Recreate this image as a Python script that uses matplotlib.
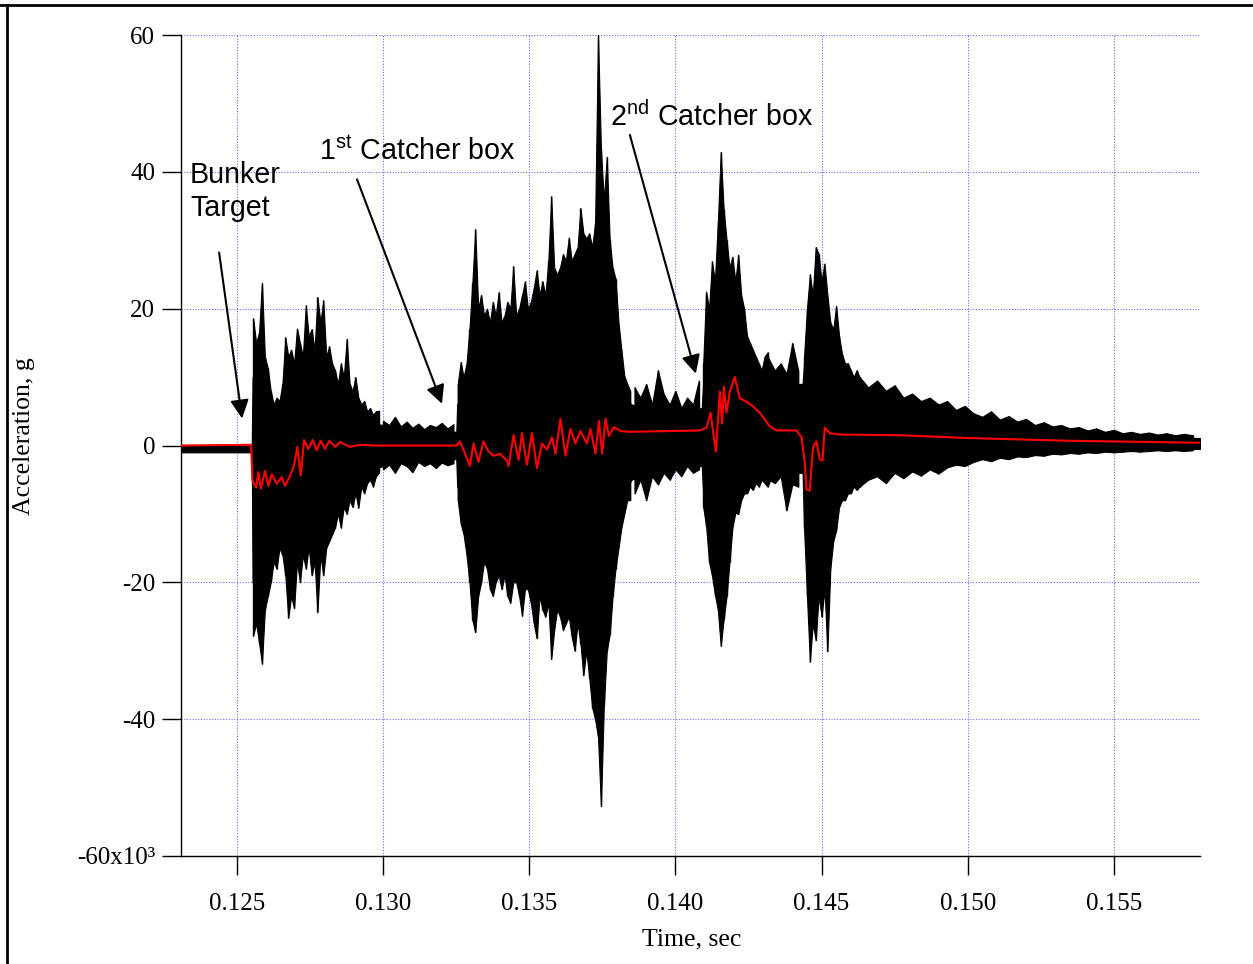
import matplotlib
matplotlib.use("Agg")
import matplotlib.pyplot as plt

plt.rcParams['mathtext.fontset'] = 'custom'
plt.rcParams['mathtext.rm'] = 'Liberation Sans'

# solid core of the raw accelerometer trace (time in s, acceleration in 10^3 g)
core_t = [0.12308, 0.12550, 0.12553, 0.12590, 0.12620, 0.12660, 0.12680, 0.12780,
          0.12820, 0.12870, 0.12920, 0.13000, 0.13100, 0.13250, 0.13253, 0.13290,
          0.13330, 0.13450, 0.13550, 0.13650, 0.13720, 0.13760, 0.13800, 0.13850,
          0.13950, 0.14050, 0.14090, 0.14096, 0.14140, 0.14180, 0.14220, 0.14260,
          0.14300, 0.14400, 0.14435, 0.14440, 0.14480, 0.14520, 0.14550, 0.14600,
          0.14700, 0.14800, 0.14900, 0.15000, 0.15100, 0.15200, 0.15300, 0.15400,
          0.15500, 0.15600, 0.15795]
core_hi = [0.0, 0.0, 10.0, 8.0, 4.0, 5.0, 9.0, 10.0,
           7.0, 5.0, 3.5, 3.0, 2.3, 2.0, 6.0, 8.0,
           13.0, 13.0, 15.0, 18.0, 22.0, 15.0, 8.0, 6.0,
           5.0, 5.0, 5.5, 10.0, 18.0, 18.0, 12.0, 9.0,
           8.5, 9.0, 9.0, 12.0, 18.0, 14.0, 9.0, 8.0,
           6.5, 5.5, 4.5, 3.8, 3.0, 2.5, 2.1, 1.7,
           1.4, 1.2, 1.1]
core_lo = [-1.0, -1.0, -20.0, -18.0, -13.0, -12.0, -13.0, -13.0,
           -9.0, -6.0, -4.0, -3.0, -2.2, -2.0, -6.0, -10.0,
           -13.0, -14.0, -16.0, -20.0, -24.0, -15.0, -8.0, -5.0,
           -3.5, -3.0, -3.0, -8.0, -15.0, -10.0, -6.0, -4.5,
           -4.0, -4.0, -4.0, -12.0, -20.0, -15.0, -7.0, -5.0,
           -3.5, -3.0, -2.5, -1.8, -1.4, -1.1, -0.9, -0.8,
           -0.7, -0.6, -0.5]

# max/min of the raw trace around the bunker target
burst_a_t = [0.12555, 0.12565, 0.12575, 0.12585, 0.12595, 0.12605, 0.12615, 0.12625,
             0.12635, 0.12645, 0.12655, 0.12665, 0.12675, 0.12685, 0.12695, 0.12705,
             0.12715, 0.12725, 0.12735, 0.12745, 0.12755, 0.12765, 0.12775, 0.12785,
             0.12795, 0.12805, 0.12815, 0.12825, 0.12835, 0.12845, 0.12855, 0.12865,
             0.12875, 0.12885, 0.12895, 0.12905, 0.12915, 0.12925, 0.12935, 0.12945,
             0.12955, 0.12965, 0.12975, 0.12985]
burst_a_hi = [18.6, 15.0, 16.5, 23.8, 13.0, 11.3, 8.0, 6.0,
              7.0, 6.5, 9.0, 15.8, 13.0, 14.0, 12.0, 17.1,
              15.0, 13.0, 20.5, 16.0, 17.0, 14.0, 21.7, 18.0,
              21.2, 13.0, 14.5, 12.0, 11.0, 9.0, 12.0, 10.0,
              15.6, 9.0, 8.0, 10.0, 7.0, 6.0, 6.5, 5.0,
              5.5, 4.5, 5.0, 5.1]
burst_a_lo = [-27.8, -26.0, -28.8, -31.9, -24.0, -22.0, -20.0, -17.0,
              -18.0, -15.0, -16.0, -19.0, -25.2, -22.0, -23.8, -17.0,
              -20.0, -16.0, -18.0, -14.9, -19.0, -17.0, -24.4, -16.0,
              -19.0, -15.0, -14.0, -13.0, -12.0, -10.0, -12.0, -9.0,
              -10.0, -8.0, -9.0, -7.0, -9.1, -6.0, -7.0, -5.5,
              -5.0, -6.0, -4.5, -4.0]

# first catcher box
burst_b_t = [0.13255, 0.13265, 0.13275, 0.13285, 0.13295, 0.13305, 0.13315, 0.13325,
             0.13335, 0.13345, 0.13355, 0.13365, 0.13375, 0.13385, 0.13395, 0.13405,
             0.13415, 0.13425, 0.13435, 0.13445, 0.13455, 0.13465, 0.13475, 0.13485,
             0.13495, 0.13505, 0.13515, 0.13525, 0.13535, 0.13545, 0.13555, 0.13565,
             0.13575, 0.13585, 0.13595, 0.13605, 0.13615, 0.13625, 0.13635, 0.13645,
             0.13655, 0.13665, 0.13675, 0.13685, 0.13695, 0.13705, 0.13715, 0.13725,
             0.13735, 0.13745, 0.13755, 0.13765, 0.13775, 0.13785, 0.13795, 0.13805,
             0.13815, 0.13825, 0.13835, 0.13845]
burst_b_hi = [9.0, 12.2, 10.0, 12.0, 17.0, 23.8, 31.6, 20.0,
              22.0, 19.0, 20.0, 18.0, 21.0, 19.0, 22.4, 18.0,
              19.0, 21.0, 20.0, 26.2, 19.0, 20.0, 22.0, 24.0,
              20.0, 21.0, 23.0, 25.6, 22.0, 24.0, 22.0, 27.0,
              36.4, 26.0, 25.0, 26.0, 28.0, 27.0, 30.4, 27.0,
              28.0, 29.0, 34.7, 31.0, 30.3, 31.0, 29.0, 32.5,
              60.0, 43.4, 35.8, 42.2, 30.0, 25.9, 24.4, 18.0,
              14.0, 10.2, 9.0, 8.0]
burst_b_lo = [-8.0, -11.4, -13.0, -16.0, -20.0, -25.5, -27.3, -22.0,
              -20.0, -17.0, -18.0, -21.0, -22.0, -20.0, -19.0, -21.0,
              -19.0, -22.0, -23.0, -20.0, -20.0, -22.0, -24.9, -21.0,
              -21.0, -23.0, -26.0, -28.2, -22.0, -24.0, -25.0, -23.0,
              -31.2, -27.0, -24.0, -25.0, -27.0, -26.0, -25.0, -28.0,
              -30.0, -26.0, -29.0, -33.6, -30.0, -34.0, -38.3, -40.0,
              -42.6, -52.7, -38.0, -30.0, -27.6, -22.0, -18.0, -15.0,
              -12.0, -10.0, -8.0, -8.0]

# second catcher box, first impact
burst_c_t = [0.14095, 0.14105, 0.14115, 0.14125, 0.14135, 0.14145, 0.14155, 0.14165,
             0.14175, 0.14185, 0.14195, 0.14205, 0.14215, 0.14225, 0.14235, 0.14245,
             0.14255, 0.14265, 0.14275, 0.14285, 0.14295, 0.14305, 0.14315, 0.14325]
burst_c_hi = [12.0, 22.5, 20.0, 26.9, 24.0, 32.6, 42.9, 34.5,
              30.0, 26.0, 27.6, 24.0, 27.9, 22.0, 20.0, 16.0,
              15.0, 14.0, 13.0, 12.0, 11.0, 13.0, 13.6, 11.0]
burst_c_lo = [-9.0, -11.8, -17.0, -19.0, -21.8, -24.0, -29.3, -25.4,
              -22.0, -17.0, -12.0, -9.8, -10.0, -8.0, -7.0, -7.0,
              -6.0, -6.5, -5.5, -6.0, -5.0, -5.5, -6.0, -5.0]

# second catcher box, second impact
burst_d_t = [0.14440, 0.14450, 0.14460, 0.14470, 0.14480, 0.14490, 0.14500, 0.14510,
             0.14520, 0.14530, 0.14540, 0.14550, 0.14560, 0.14570, 0.14580, 0.14590,
             0.14600, 0.14610, 0.14620, 0.14630]
burst_d_hi = [13.0, 20.0, 25.0, 22.0, 29.0, 28.0, 24.0, 26.6,
              22.0, 18.0, 17.0, 20.4, 16.0, 13.4, 12.0, 12.0,
              11.0, 10.0, 11.0, 10.0]
burst_d_lo = [-12.0, -22.0, -31.6, -26.0, -28.5, -22.0, -25.0, -21.0,
              -30.1, -18.0, -14.0, -12.4, -9.0, -8.0, -8.0, -7.0,
              -7.0, -6.0, -6.5, -6.0]

# quieter stretches between and after the impacts
quiet_1_t = [0.13000, 0.13020, 0.13040, 0.13060, 0.13080, 0.13100, 0.13120, 0.13140,
             0.13160, 0.13180, 0.13200, 0.13220, 0.13240]
quiet_1_hi = [3.6, 3.0, 4.2, 2.8, 3.5, 2.6, 3.2, 2.4, 3.0, 2.7, 3.3, 2.5, 3.1]
quiet_1_lo = [-3.5, -2.8, -4.0, -2.6, -3.0, -3.9, -2.4, -3.0, -2.6, -3.3, -2.5, -2.9, -2.6]

quiet_2_t = [0.13860, 0.13880, 0.13900, 0.13920, 0.13940, 0.13960, 0.13980, 0.14000,
             0.14020, 0.14040, 0.14060, 0.14080]
quiet_2_hi = [8.5, 7.0, 9.0, 6.0, 11.0, 7.5, 6.0, 8.0, 5.5, 7.0, 6.0, 9.5]
quiet_2_lo = [-7.0, -5.0, -8.0, -4.5, -5.7, -4.0, -5.0, -3.5, -4.5, -3.0, -4.0, -3.5]

quiet_3_t = [0.14320, 0.14340, 0.14360, 0.14380, 0.14400, 0.14420]
quiet_3_hi = [12.6, 11.0, 12.0, 10.5, 15.0, 11.0]
quiet_3_lo = [-5.0, -5.5, -4.5, -9.5, -5.7, -6.0]

quiet_4_t = [0.14630, 0.14660, 0.14690, 0.14720, 0.14750, 0.14780, 0.14810, 0.14840,
             0.14870, 0.14900, 0.14930, 0.14960, 0.14990, 0.15020, 0.15050, 0.15080,
             0.15110, 0.15140, 0.15170, 0.15200, 0.15230, 0.15260, 0.15290, 0.15320,
             0.15350, 0.15380, 0.15410, 0.15440, 0.15470, 0.15500, 0.15530, 0.15560,
             0.15590, 0.15620, 0.15650, 0.15680, 0.15710, 0.15740, 0.15770]
quiet_4_hi = [10.0, 8.5, 9.5, 8.0, 8.8, 7.0, 7.6, 6.5,
              7.0, 6.0, 6.5, 5.2, 5.8, 4.7, 4.2, 5.0,
              3.8, 4.3, 3.5, 3.9, 3.0, 3.4, 2.8, 3.0,
              2.5, 2.7, 2.2, 2.5, 2.0, 2.3, 1.8, 2.0,
              1.7, 1.9, 1.6, 1.8, 1.5, 1.7, 1.5]
quiet_4_lo = [-6.0, -5.0, -4.5, -5.5, -4.0, -4.8, -3.8, -4.4,
              -3.5, -4.1, -3.2, -2.8, -3.0, -2.4, -2.0, -2.3,
              -1.8, -2.0, -1.6, -1.7, -1.4, -1.5, -1.2, -1.3,
              -1.1, -1.2, -1.0, -1.1, -0.9, -1.0, -0.9, -0.8,
              -0.9, -0.8, -0.7, -0.8, -0.7, -0.8, -0.7]

# low-pass filtered trace (red)
red_t = [0.123085, 0.125479, 0.125523, 0.125650, 0.125728, 0.125811, 0.125958, 0.126070,
         0.126187, 0.126358, 0.126529, 0.126642, 0.126813, 0.126949, 0.127062, 0.127179,
         0.127291, 0.127438, 0.127589, 0.127726, 0.127862, 0.128010, 0.128157, 0.128352,
         0.128523, 0.128865, 0.129207, 0.129778, 0.132514, 0.132627, 0.132969, 0.133088,
         0.133259, 0.133430, 0.133605, 0.133776, 0.133995, 0.134234, 0.134289, 0.134460,
         0.134634, 0.134747, 0.134918, 0.135089, 0.135260, 0.135431, 0.135602, 0.135773,
         0.135893, 0.136064, 0.136235, 0.136406, 0.136577, 0.136748, 0.136970, 0.137093,
         0.137264, 0.137380, 0.137493, 0.137606, 0.137722, 0.137893, 0.138122, 0.138464,
         0.140834, 0.141064, 0.141200, 0.141382, 0.141518, 0.141597, 0.141655, 0.141748,
         0.141860, 0.142031, 0.142202, 0.142432, 0.142603, 0.142886, 0.143228, 0.143458,
         0.144142, 0.144313, 0.144425, 0.144483, 0.144596, 0.144709, 0.144826, 0.144938,
         0.145031, 0.145109, 0.145280, 0.145622, 0.147674, 0.149966, 0.153386, 0.157934]
red_v = [0.0, 0.1, -5.1, -6.1, -3.9, -6.3, -3.7, -5.9,
         -4.2, -5.6, -4.6, -5.9, -4.4, -2.9, -0.2, -4.4,
         0.8, -0.5, 0.8, -0.7, 0.7, -0.5, 0.7, -0.2,
         0.5, -0.2, 0.1, 0.0, 0.0, 0.6, -3.0, 0.3,
         -2.4, 0.6, -0.9, -1.5, -1.2, -2.2, -3.0, 1.5,
         -2.1, 1.8, -2.8, 1.8, -3.3, 0.3, -0.6, 1.2,
         -1.2, 3.9, -1.5, 2.4, 0.3, 2.1, 0.3, 2.4,
         -1.2, 3.6, -1.2, 3.9, 1.4, 2.7, 2.1, 2.0,
         2.2, 2.6, 4.8, -0.9, 7.9, 3.2, 8.6, 4.8,
         7.9, 10.0, 6.9, 6.4, 5.9, 4.8, 2.8, 2.2,
         2.2, 1.2, -2.5, -6.4, -6.6, -0.3, 0.6, -2.0,
         -2.2, 2.6, 1.8, 1.6, 1.5, 1.1, 0.7, 0.4]

x_ticks = [0.125, 0.130, 0.135, 0.140, 0.145, 0.150, 0.155]
x_labels = ['0.125', '0.130', '0.135', '0.140', '0.145', '0.150', '0.155']
y_ticks = [-60, -40, -20, 0, 20, 40, 60]
y_labels = ['-60x10\u00b3', '-40', '-20', '0', '20', '40', '60']

fig = plt.figure(figsize=(12.53, 9.64), dpi=100)
ax = fig.add_axes([181 / 1253, 1 - 856 / 964, 1019 / 1253, 821 / 964])

ax.fill_between(core_t, core_lo, core_hi, color='black', lw=0.8, zorder=2)
segments = [(burst_a_t, burst_a_hi, burst_a_lo),
            (burst_b_t, burst_b_hi, burst_b_lo),
            (burst_c_t, burst_c_hi, burst_c_lo),
            (burst_d_t, burst_d_hi, burst_d_lo),
            (quiet_1_t, quiet_1_hi, quiet_1_lo),
            (quiet_2_t, quiet_2_hi, quiet_2_lo),
            (quiet_3_t, quiet_3_hi, quiet_3_lo),
            (quiet_4_t, quiet_4_hi, quiet_4_lo)]
for st, shi, slo in segments:
    ax.fill_between(st, slo, shi, color='black', lw=0.8, zorder=2)
    ax.vlines(st, slo, shi, color='black', lw=1.0, zorder=2)
ax.plot(red_t, red_v, color='red', lw=1.5, zorder=3)

ax.set_xlim(0.12308, 0.15795)
ax.set_ylim(-60, 60)
ax.set_xticks(x_ticks)
ax.set_xticklabels(x_labels)
ax.set_yticks(y_ticks)
ax.set_yticklabels(y_labels)

for lab in ax.get_xticklabels() + ax.get_yticklabels():
    lab.set_fontfamily('Liberation Serif')
    lab.set_fontsize(18)
ax.tick_params(direction='out', length=13.5, width=1, pad=5)
ax.tick_params(axis='x', pad=13)

ax.grid(True, color='#6b6bff', lw=0.8, linestyle=(0, (1, 1.5)), zorder=0)
ax.set_axisbelow(True)
for s in ['top', 'right']:
    ax.spines[s].set_visible(False)
for s in ['left', 'bottom']:
    ax.spines[s].set_linewidth(1)

ax.set_xlabel('Time, sec', fontfamily='Liberation Serif', fontsize=18.5)
ax.set_ylabel('Acceleration, g', fontfamily='Liberation Serif', fontsize=18.5)
ax.xaxis.set_label_coords(0.5015, -0.088)
ax.yaxis.set_label_coords(-0.143, 0.511)

# annotations
txt = dict(fontfamily='Liberation Sans', fontsize=20.6, color='black')
ax.text(0.12339, 38.3, 'Bunker', **txt)
ax.text(0.12339, 33.6, 'Target', **txt)
ax.text(0.12780, 41.7, r'1$^{\rm st}$ Catcher box', **txt)
ax.text(0.13776, 46.7, r'2$^{\rm nd}$ Catcher box', **txt)

arrow = dict(arrowstyle='-|>', color='black', lw=1.5, mutation_scale=28, shrinkA=0, shrinkB=0)
ax.annotate('', xy=(0.125171, 3.95), xytext=(0.124384, 28.2), arrowprops=arrow)
ax.annotate('', xy=(0.132011, 6.1), xytext=(0.129104, 38.9), arrowprops=arrow)
ax.annotate('', xy=(0.140697, 10.5), xytext=(0.138440, 45.4), arrowprops=arrow)

# partial frame around the figure
fig.add_artist(plt.Line2D([0, 1], [1 - 5 / 964, 1 - 5 / 964], color='black', lw=2, transform=fig.transFigure))
fig.add_artist(plt.Line2D([7 / 1253, 7 / 1253], [0, 1 - 5 / 964], color='black', lw=2, transform=fig.transFigure))

fig.savefig('out.png', dpi=100)
